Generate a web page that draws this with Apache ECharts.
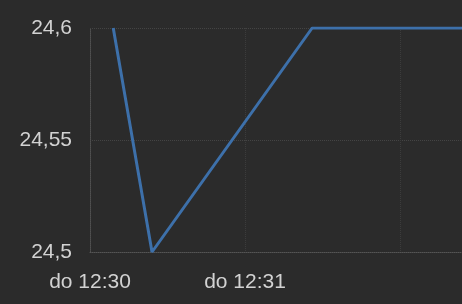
<!DOCTYPE html>
<html><head><meta charset="utf-8">
<script src="https://cdn.jsdelivr.net/npm/echarts@6/dist/echarts.min.js"></script>
<style>html,body{margin:0;padding:0;background:#2b2b2b;}#c{width:462px;height:304px;}</style>
</head><body><div id="c"></div>
<script>
const times = ['12:30:09', '12:30:24', '12:31:26', '12:32:24'];
const values = [24.6, 24.5, 24.6, 24.6];
const xStart = '12:30:00';
const xEnd = '12:32:24';
const xTickLabels = ['do 12:30', 'do 12:31'];
const yTicks = [24.5, 24.55, 24.6];

function toSec(t) { const p = t.split(':').map(Number); return p[0] * 3600 + p[1] * 60 + (p[2] || 0); }
const base = toSec(xStart);

const labelFont = {color: '#d2d2d2', fontFamily: 'Liberation Sans, Arial', fontSize: 21};

const chart = echarts.init(document.getElementById('c'), null, {renderer: 'canvas'});
chart.setOption({
  backgroundColor: '#2b2b2b',
  animation: false,
  grid: {left: 90, right: 0, top: 28, bottom: 52, containLabel: false},
  xAxis: {
    type: 'value',
    min: 0, max: toSec(xEnd) - base,
    interval: 60,
    axisLine: {show: true, onZero: false, lineStyle: {color: '#555', type: 'dotted', width: 1}},
    axisTick: {show: false},
    splitLine: {show: true, lineStyle: {color: '#3c3c3c', type: 'dotted'}},
    axisLabel: Object.assign({}, labelFont, {
      margin: 20,
      showMaxLabel: false,
      formatter: function (v) { return xTickLabels[Math.round(v / 60)] || ''; }
    })
  },
  yAxis: {
    type: 'value',
    min: yTicks[0], max: yTicks[yTicks.length - 1], interval: 0.05,
    axisLine: {show: true, lineStyle: {color: '#505050', type: 'dotted'}},
    axisTick: {show: false},
    splitLine: {show: true, lineStyle: {color: '#444', type: 'dotted'}},
    axisLabel: Object.assign({}, labelFont, {
      margin: 18,
      formatter: function (v) { return String(+v.toFixed(2)).replace('.', ','); }
    })
  },
  series: [{
    type: 'line',
    data: times.map((t, i) => [toSec(t) - base, values[i]]),
    showSymbol: false,
    lineStyle: {color: '#3d70aa', width: 3},
    itemStyle: {color: '#3d70aa'}
  }]
});
</script>
</body></html>
